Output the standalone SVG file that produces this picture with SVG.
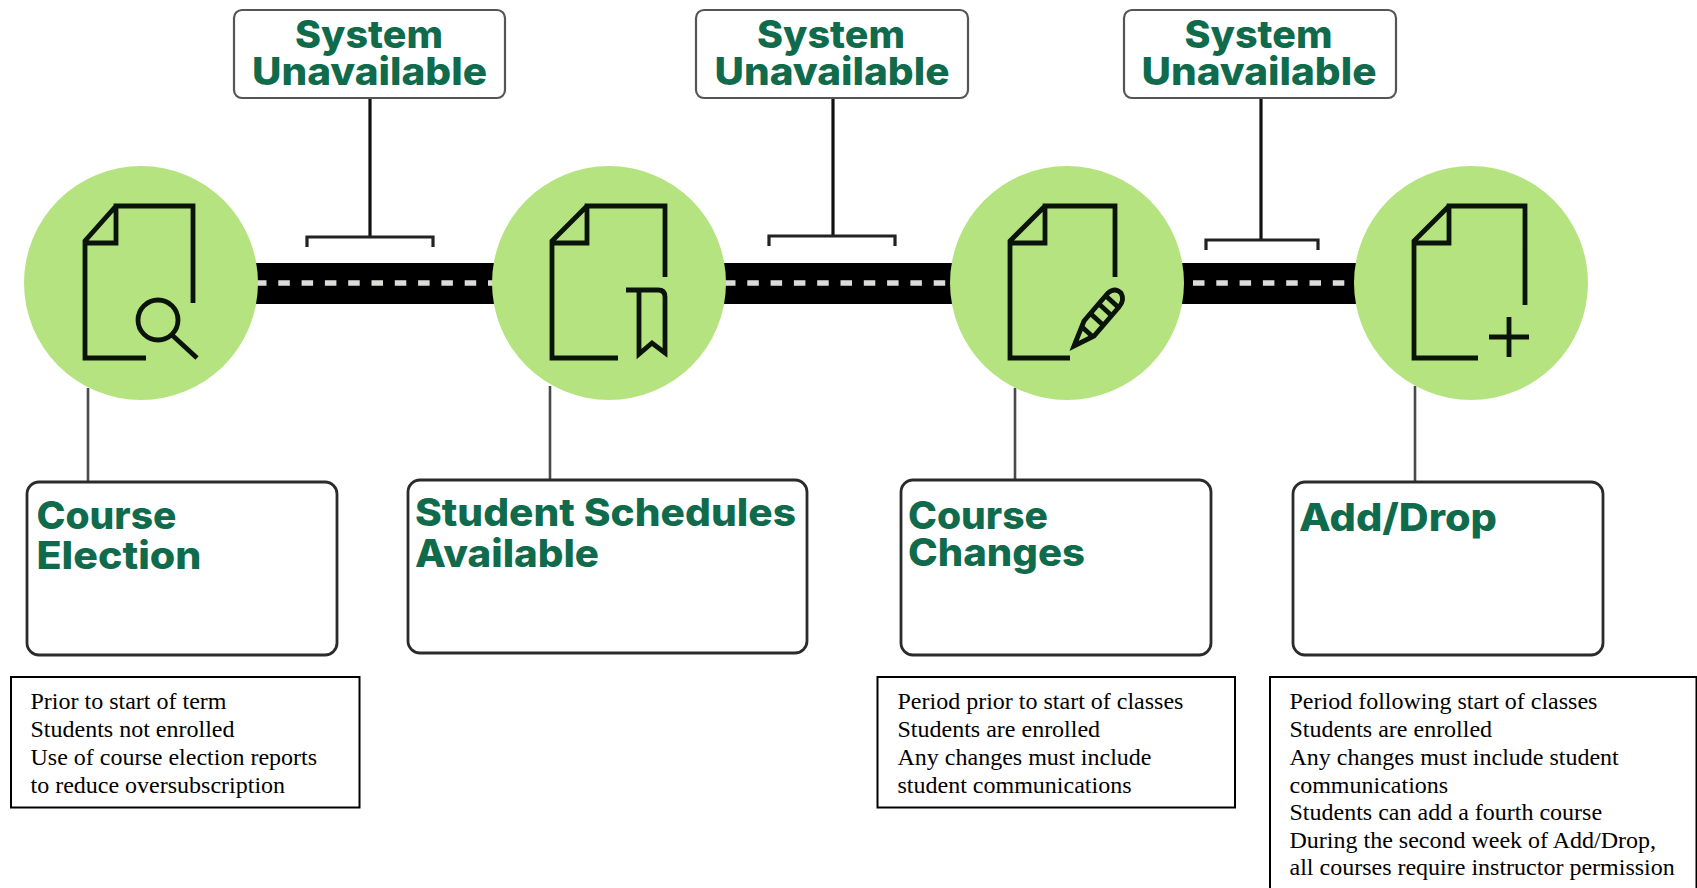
<svg xmlns="http://www.w3.org/2000/svg" width="1697" height="888" viewBox="0 0 1697 888">
<style>
.bg{fill:#fff}
.road{fill:#000}
.dash{stroke:#dcdcd8;stroke-width:5.5;stroke-dasharray:11.5 11.8;fill:none}
.stem{stroke:#111;stroke-width:3.2;fill:none}
.brk{stroke:#222;stroke-width:3.2;fill:none}
.lead{stroke:#4a4a4a;stroke-width:2.6;fill:none}
.circ{fill:#b5e37f}
.ic{stroke:#0a140a;stroke-width:4.8;fill:none;stroke-linejoin:miter}
.sys{fill:#fff;stroke:#555;stroke-width:2.2}
.card{fill:#fff;stroke:#2b2b2b;stroke-width:2.8}
.note{fill:#fff;stroke:#000;stroke-width:2}
.h{font-family:"Inter","Open Sans",sans-serif;font-weight:800;font-size:38px;fill:#0f6b4b}
.t{font-family:"Liberation Serif",serif;font-size:24px;fill:#000}
</style>
<rect class="bg" width="1697" height="888"/>
<g id="connectors">
<rect class="road" x="250" y="263" width="250" height="41"/>
<rect class="road" x="715" y="263" width="245" height="41"/>
<rect class="road" x="1175" y="263" width="190" height="41"/>
<path class="dash" d="M255 283H495"/>
<path class="dash" d="M724 283H952"/>
<path class="dash" d="M1193 283H1355"/>
<path class="stem" d="M370 98V237"/>
<path class="brk" d="M307 247V237H433V247"/>
<path class="stem" d="M833 98V236"/>
<path class="brk" d="M769 246V236H895V246"/>
<path class="stem" d="M1261 98V240"/>
<path class="brk" d="M1206 250V240H1318V250"/>
<path class="lead" d="M88 388V482"/>
<path class="lead" d="M550 386V480"/>
<path class="lead" d="M1015 388V480"/>
<path class="lead" d="M1415 386V482"/>
</g>
<g id="system-1"><rect class="sys" x="234" y="10" width="271" height="88" rx="8"/>
<text class="h" x="369" y="48" text-anchor="middle" textLength="148" lengthAdjust="spacingAndGlyphs">System</text>
<text class="h" x="369.500" y="85" text-anchor="middle" textLength="235" lengthAdjust="spacingAndGlyphs">Unavailable</text></g>
<g id="system-2"><rect class="sys" x="696" y="10" width="272" height="88" rx="8"/>
<text class="h" x="831" y="48" text-anchor="middle" textLength="148" lengthAdjust="spacingAndGlyphs">System</text>
<text class="h" x="832" y="85" text-anchor="middle" textLength="235" lengthAdjust="spacingAndGlyphs">Unavailable</text></g>
<g id="system-3"><rect class="sys" x="1124" y="10" width="272" height="88" rx="8"/>
<text class="h" x="1258.500" y="48" text-anchor="middle" textLength="148" lengthAdjust="spacingAndGlyphs">System</text>
<text class="h" x="1259" y="85" text-anchor="middle" textLength="235" lengthAdjust="spacingAndGlyphs">Unavailable</text></g>
<g id="step-1"><circle class="circ" cx="141" cy="283" r="117"/>
<path class="ic" d="M193 303V206H116V243H85M116 206L85 241V358H146"/>
<circle class="ic" cx="158" cy="320" r="20"/><path class="ic" d="M172 335L197 358"/></g>
<g id="step-2"><circle class="circ" cx="609" cy="283" r="117"/>
<path class="ic" d="M665 277V206H587V243H552M587 206L552 241V358H618"/>
<path class="ic" d="M626 290H658Q665 290 665 297V353L652 343L639 354V290"/></g>
<g id="step-3"><circle class="circ" cx="1067" cy="283" r="117"/>
<path class="ic" d="M1115 277V206H1045V243H1010M1045 206L1010 241V358H1070"/>
<g class="ic"><path d="M1074 346L1084 321L1108 293Q1115 287 1121 293Q1125 300 1119 307L1094 336Z"/><path d="M1081 326L1093 337M1091 314L1103 325M1099 304L1111 315M1106 296L1118 307"/></g></g>
<g id="step-4"><circle class="circ" cx="1471" cy="283" r="117"/>
<path class="ic" d="M1525 305V206H1449V243H1414M1449 206L1414 241V358H1478"/>
<path class="ic" d="M1489 337H1529M1509 317V357"/></g>
<g id="card-1"><rect class="card" x="27" y="482" width="310" height="173" rx="12"/>
<text class="h" x="36.500" y="529" textLength="140" lengthAdjust="spacingAndGlyphs">Course</text>
<text class="h" x="36.500" y="569" textLength="165" lengthAdjust="spacingAndGlyphs">Election</text></g>
<g id="card-2"><rect class="card" x="408" y="480" width="399" height="173" rx="12"/>
<text class="h" x="415" y="526" textLength="381" lengthAdjust="spacingAndGlyphs">Student Schedules</text>
<text class="h" x="415" y="567" textLength="184" lengthAdjust="spacingAndGlyphs">Available</text></g>
<g id="card-3"><rect class="card" x="901" y="480" width="310" height="175" rx="12"/>
<text class="h" x="908" y="529" textLength="140" lengthAdjust="spacingAndGlyphs">Course</text>
<text class="h" x="908" y="566" textLength="177" lengthAdjust="spacingAndGlyphs">Changes</text></g>
<g id="card-4"><rect class="card" x="1293" y="482" width="310" height="173" rx="12"/>
<text class="h" x="1299" y="531" textLength="198" lengthAdjust="spacingAndGlyphs">Add/Drop</text></g>
<g id="note-1"><rect class="note" x="11" y="677" width="348.500" height="130.500"/>
<text class="t" x="30.500" y="709">Prior to start of term</text>
<text class="t" x="30.500" y="737">Students not enrolled</text>
<text class="t" x="30.500" y="765">Use of course election reports</text>
<text class="t" x="30.500" y="793">to reduce oversubscription</text></g>
<g id="note-3"><rect class="note" x="877.500" y="677" width="357.500" height="130.500"/>
<text class="t" x="897.500" y="709">Period prior to start of classes</text>
<text class="t" x="897.500" y="737">Students are enrolled</text>
<text class="t" x="897.500" y="765">Any changes must include</text>
<text class="t" x="897.500" y="793">student communications</text></g>
<g id="note-4"><rect class="note" x="1270" y="677" width="426.500" height="220"/>
<text class="t" x="1289.500" y="709">Period following start of classes</text>
<text class="t" x="1289.500" y="737">Students are enrolled</text>
<text class="t" x="1289.500" y="765">Any changes must include student</text>
<text class="t" x="1289.500" y="793">communications</text>
<text class="t" x="1289.500" y="820">Students can add a fourth course</text>
<text class="t" x="1289.500" y="848">During the second week of Add/Drop,</text>
<text class="t" x="1289.500" y="875">all courses require instructor permission</text></g>
</svg>
